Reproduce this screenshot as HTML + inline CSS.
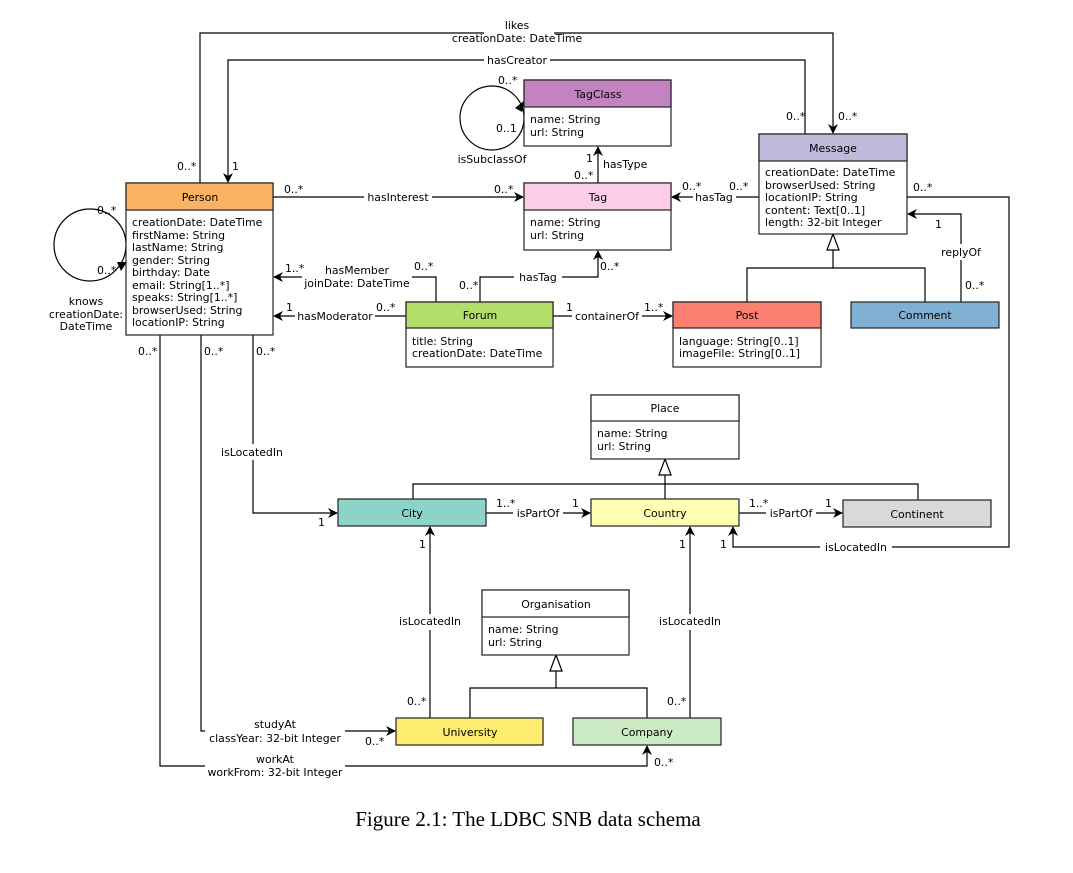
<!DOCTYPE html>
<html><head><meta charset="utf-8"><style>
html,body{margin:0;padding:0;background:#fff;}
svg{display:block;}
text{font-family:"DejaVu Sans","Liberation Sans",sans-serif;font-size:10.9px;fill:#000;}
.c{text-anchor:middle;}
.cap{font-family:"Liberation Serif",serif;font-size:21px;}
</style></head><body>
<svg width="1073" height="873" viewBox="0 0 1073 873" xmlns="http://www.w3.org/2000/svg">
<defs>
<marker id="a" markerWidth="10" markerHeight="10" refX="9" refY="5" orient="auto" markerUnits="userSpaceOnUse">
<path d="M0,0 L10,5 L0,10 L3,5 Z" fill="#000"/></marker>
</defs>
<g fill="none" stroke="#000" stroke-width="1.2">
<path d="M200,183 V33 H833 V133" marker-end="url(#a)"/>
<path d="M805,134 V60 H228 V182" marker-end="url(#a)"/>
<circle cx="90" cy="245" r="36"/>
<circle cx="492" cy="118" r="32"/>
<path d="M273,197 H523" marker-end="url(#a)"/>
<path d="M598,183 V147" marker-end="url(#a)"/>
<path d="M759,197 H672" marker-end="url(#a)"/>
<path d="M436,302 V277 H412"/>
<path d="M302,277 H274" marker-end="url(#a)"/>
<path d="M406,316 H274" marker-end="url(#a)"/>
<path d="M480,302 V277 H598 V251" marker-end="url(#a)"/>
<path d="M553,316 H672" marker-end="url(#a)"/>
<path d="M833,250 V268 M747,302 V268 H925 V302"/>
<path d="M961,302 V214 H908" marker-end="url(#a)"/>
<path d="M907,197 H1009 V547 H733 V527" marker-end="url(#a)"/>
<path d="M253,335 V513 H337" marker-end="url(#a)"/>
<path d="M665,475 V499 M413,499 V484 H918 V500"/>
<path d="M486,513 H590" marker-end="url(#a)"/>
<path d="M739,513 H842" marker-end="url(#a)"/>
<path d="M430,718 V527" marker-end="url(#a)"/>
<path d="M690,718 V527" marker-end="url(#a)"/>
<path d="M556,671 V688 M470,718 V688 H647 V718"/>
<path d="M201,335 V731 H395" marker-end="url(#a)"/>
<path d="M160,335 V766 H647 V746" marker-end="url(#a)"/>
</g>
<path d="M117,262 L127,262 L121,271 Z" fill="#000"/>
<path d="M515,108 L525,100 L522,112 Z" fill="#000"/>
<g fill="#fff" stroke="#000" stroke-width="1.2">
<path d="M833,234 L827,250 L839,250 Z"/>
<path d="M665,459 L659,475 L671,475 Z"/>
<path d="M556,655 L550,671 L562,671 Z"/>
</g>
<g fill="#fff">
<rect x="484" y="17" width="70" height="28"/>
<rect x="484" y="52" width="66" height="14"/>
<rect x="364" y="190" width="68" height="14"/>
<rect x="693" y="190" width="43" height="14"/>
<rect x="514" y="270" width="48" height="14"/>
<rect x="295" y="309" width="80" height="14"/>
<rect x="572" y="309" width="70" height="14"/>
<rect x="938" y="244" width="46" height="16"/>
<rect x="820" y="540" width="72" height="14"/>
<rect x="216" y="444" width="72" height="16"/>
<rect x="513" y="506" width="50" height="14"/>
<rect x="766" y="506" width="50" height="14"/>
<rect x="394" y="614" width="72" height="16"/>
<rect x="654" y="614" width="72" height="16"/>
<rect x="205" y="716" width="140" height="30"/>
<rect x="205" y="752" width="140" height="28"/>
</g>
<g stroke="#222" stroke-width="1.2">
<rect x="126" y="183" width="147" height="152" fill="#fff"/><rect x="126" y="183" width="147" height="27" fill="#fbb363"/>
<rect x="524" y="183" width="147" height="67" fill="#fff"/><rect x="524" y="183" width="147" height="27" fill="#fdcce6"/>
<rect x="524" y="80" width="147" height="66" fill="#fff"/><rect x="524" y="80" width="147" height="27" fill="#c283c0"/>
<rect x="759" y="134" width="148" height="100" fill="#fff"/><rect x="759" y="134" width="148" height="27" fill="#bebadb"/>
<rect x="406" y="302" width="147" height="65" fill="#fff"/><rect x="406" y="302" width="147" height="26" fill="#b3de69"/>
<rect x="673" y="302" width="148" height="65" fill="#fff"/><rect x="673" y="302" width="148" height="26" fill="#fb8072"/>
<rect x="851" y="302" width="148" height="26" fill="#80b1d3"/>
<rect x="591" y="395" width="148" height="64" fill="#fff"/><rect x="591" y="395" width="148" height="26" fill="#fff"/>
<rect x="338" y="499" width="148" height="27" fill="#8dd3c7"/>
<rect x="591" y="499" width="148" height="27" fill="#ffffb3"/>
<rect x="843" y="500" width="148" height="27" fill="#d9d9d9"/>
<rect x="482" y="590" width="147" height="65" fill="#fff"/><rect x="482" y="590" width="147" height="27" fill="#fff"/>
<rect x="396" y="718" width="147" height="27" fill="#ffed6f"/>
<rect x="573" y="718" width="148" height="27" fill="#ccebc5"/>
</g>
<text class="c" x="200" y="201">Person</text>
<text class="c" x="598" y="201">Tag</text>
<text class="c" x="598" y="98">TagClass</text>
<text class="c" x="833" y="152">Message</text>
<text class="c" x="480" y="319">Forum</text>
<text class="c" x="747" y="319">Post</text>
<text class="c" x="925" y="319">Comment</text>
<text class="c" x="665" y="412">Place</text>
<text class="c" x="412" y="517">City</text>
<text class="c" x="665" y="517">Country</text>
<text class="c" x="917" y="518">Continent</text>
<text class="c" x="556" y="608">Organisation</text>
<text class="c" x="470" y="736">University</text>
<text class="c" x="647" y="736">Company</text>
<text x="132" y="226">creationDate: DateTime</text>
<text x="132" y="239">firstName: String</text>
<text x="132" y="251">lastName: String</text>
<text x="132" y="264">gender: String</text>
<text x="132" y="276">birthday: Date</text>
<text x="132" y="289">email: String[1..*]</text>
<text x="132" y="301">speaks: String[1..*]</text>
<text x="132" y="314">browserUsed: String</text>
<text x="132" y="326">locationIP: String</text>
<text x="530" y="226">name: String</text>
<text x="530" y="239">url: String</text>
<text x="530" y="123">name: String</text>
<text x="530" y="136">url: String</text>
<text x="765" y="176">creationDate: DateTime</text>
<text x="765" y="189">browserUsed: String</text>
<text x="765" y="201">locationIP: String</text>
<text x="765" y="214">content: Text[0..1]</text>
<text x="765" y="226">length: 32-bit Integer</text>
<text x="412" y="345">title: String</text>
<text x="412" y="357">creationDate: DateTime</text>
<text x="679" y="345">language: String[0..1]</text>
<text x="679" y="357">imageFile: String[0..1]</text>
<text x="597" y="437">name: String</text>
<text x="597" y="450">url: String</text>
<text x="488" y="633">name: String</text>
<text x="488" y="646">url: String</text>
<text class="c" x="517" y="29">likes</text>
<text class="c" x="517" y="42">creationDate: DateTime</text>
<text class="c" x="517" y="64">hasCreator</text>
<text x="177" y="170">0..*</text>
<text x="232" y="170">1</text>
<text x="786" y="120">0..*</text>
<text x="838" y="120">0..*</text>
<text x="97" y="214">0..*</text>
<text x="97" y="274">0..*</text>
<text class="c" x="86" y="305">knows</text>
<text class="c" x="86" y="318">creationDate:</text>
<text class="c" x="86" y="330">DateTime</text>
<text x="498" y="84">0..*</text>
<text x="496" y="132">0..1</text>
<text class="c" x="492" y="163">isSubclassOf</text>
<text x="284" y="193">0..*</text>
<text class="c" x="398" y="201">hasInterest</text>
<text x="494" y="193">0..*</text>
<text x="586" y="162">1</text>
<text x="603" y="168">hasType</text>
<text x="574" y="179">0..*</text>
<text x="682" y="190">0..*</text>
<text class="c" x="714" y="201">hasTag</text>
<text x="729" y="190">0..*</text>
<text x="913" y="191">0..*</text>
<text x="285" y="272">1..*</text>
<text class="c" x="357" y="274">hasMember</text>
<text class="c" x="357" y="287">joinDate: DateTime</text>
<text x="414" y="270">0..*</text>
<text x="459" y="289">0..*</text>
<text class="c" x="538" y="281">hasTag</text>
<text x="600" y="270">0..*</text>
<text x="286" y="311">1</text>
<text class="c" x="335" y="320">hasModerator</text>
<text x="376" y="311">0..*</text>
<text x="566" y="311">1</text>
<text class="c" x="607" y="320">containerOf</text>
<text x="644" y="311">1..*</text>
<text x="935" y="228">1</text>
<text class="c" x="961" y="256">replyOf</text>
<text x="965" y="289">0..*</text>
<text x="138" y="355">0..*</text>
<text x="204" y="355">0..*</text>
<text x="256" y="355">0..*</text>
<text class="c" x="252" y="456">isLocatedIn</text>
<text x="318" y="526">1</text>
<text x="496" y="507">1..*</text>
<text class="c" x="538" y="517">isPartOf</text>
<text x="572" y="507">1</text>
<text x="749" y="507">1..*</text>
<text class="c" x="791" y="517">isPartOf</text>
<text x="825" y="507">1</text>
<text x="419" y="548">1</text>
<text x="679" y="548">1</text>
<text x="720" y="548">1</text>
<text class="c" x="856" y="551">isLocatedIn</text>
<text class="c" x="430" y="625">isLocatedIn</text>
<text class="c" x="690" y="625">isLocatedIn</text>
<text x="407" y="705">0..*</text>
<text x="667" y="705">0..*</text>
<text class="c" x="275" y="728">studyAt</text>
<text class="c" x="275" y="742">classYear: 32-bit Integer</text>
<text x="365" y="745">0..*</text>
<text class="c" x="275" y="763">workAt</text>
<text class="c" x="275" y="776">workFrom: 32-bit Integer</text>
<text x="654" y="766">0..*</text>
<text class="cap c" x="528" y="826" text-anchor="middle">Figure 2.1: The LDBC SNB data schema</text>
</svg>
</body></html>
